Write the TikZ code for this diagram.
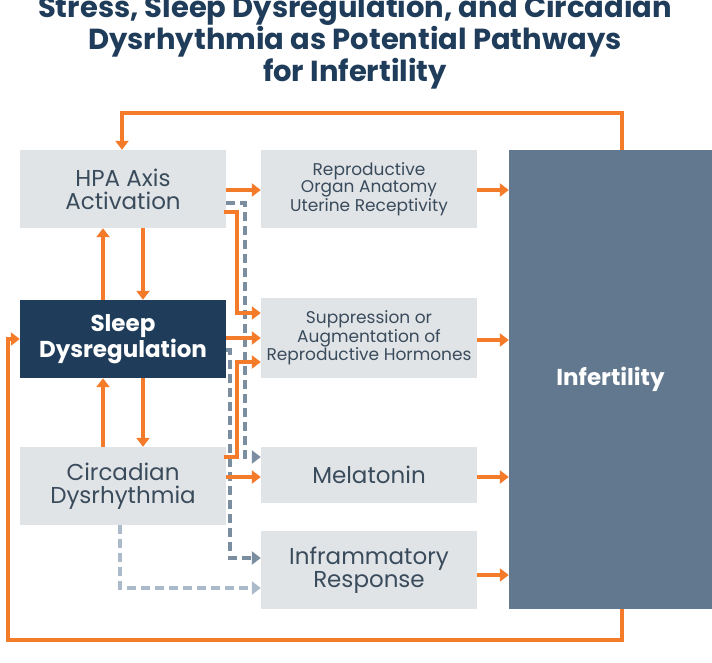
\documentclass[tikz,border=0pt]{standalone}
\usepackage{fontspec}
\setmainfont{Poppins}
\usetikzlibrary{positioning,arrows.meta}
\definecolor{navy}{HTML}{1F3D5A}
\definecolor{slate}{HTML}{62788E}
\definecolor{boxgray}{HTML}{E1E4E7}
\definecolor{txt}{HTML}{3A4B5C}
\definecolor{flow}{HTML}{F47B2A}
\definecolor{dash}{HTML}{7A8EA0}
\definecolor{ldash}{HTML}{AABACA}
\begin{document}
\begin{tikzpicture}[x=1pt,y=-1pt,
box/.style={fill=boxgray, text=txt, align=center, inner sep=0pt, font=\fontsize{23}{23}\selectfont},
small/.style={box, font=\fontsize{17}{17}\selectfont},
flowarrow/.style={draw=flow, line width=4.5pt, -{Triangle[length=9pt,width=13pt]}},
dasharrow/.style={draw=dash, line width=4.5pt, dash pattern=on 9pt off 5pt, -{Triangle[length=9pt,width=13pt]}}]
\useasboundingbox (0,0) rectangle (712,662);
\node[font=\fontsize{29}{26}\selectfont\bfseries, text=navy, align=center] (title) at (355,42)
  {Stress, Sleep Dysregulation, and Circadian\\Dysrhythmia as Potential Pathways\\for Infertility};
% left column
\node[box, minimum width=206, minimum height=78] (hpa) at (123,189) {HPA Axis\\Activation};
\node[box, fill=navy, text=white, font=\fontsize{23}{24}\selectfont\bfseries, minimum width=206, minimum height=78] (sleep) at (123,339) {Sleep\\Dysregulation};
\node[box, minimum width=206, minimum height=78] (circ) at (123,486) {Circadian\\Dysrhythmia};
% middle column
\node[small, minimum width=216, minimum height=78] (repro) at (369,189) {Reproductive\\Organ Anatomy\\Uterine Receptivity};
\node[small, minimum width=216, minimum height=80] (supp) at (369,338) {Suppression or\\Augmentation of\\Reproductive Hormones};
\node[box, minimum width=216, minimum height=56] (mel) at (369,475) {Melatonin};
\node[box, minimum width=216, minimum height=78] (infl) at (369,570) {Inframmatory\\Response};
% right
\node[fill=slate, text=white, font=\fontsize{23}{23}\selectfont\bfseries, minimum width=203, minimum height=459, inner sep=0pt] (inf) at (610.5,379.5) {Infertility};
% loops
\draw[flowarrow] (622,150) |- (122,113) -- (hpa.north-|122,0);
\draw[flowarrow] (622,609) |- (8,640) |- (sleep.west);
% vertical
\draw[flowarrow] (sleep.north-|103,0) -- (hpa.south-|103,0);
\draw[flowarrow] (hpa.south-|143,0) -- (sleep.north-|143,0);
\draw[flowarrow] (circ.north-|103,0) -- (sleep.south-|103,0);
\draw[flowarrow] (sleep.south-|143,0) -- (circ.north-|143,0);
% dashed
\draw[dasharrow] (226,203) -| (245,457) -- (mel.west|-0,457);
\draw[dasharrow] (226,350) -| (230,558) -- (infl.west|-0,558);
\draw[dasharrow, draw=ldash] (circ.south-|120,0) |- (infl.west|-0,588);
% orange to middle
\draw[flowarrow] (226,190) -- (repro.west|-0,190);
\draw[flowarrow] (224,212) -| (237,313) -- (supp.west|-0,313);
\draw[flowarrow] (sleep.east|-0,338) -- (supp.west|-0,338);
\draw[flowarrow] (224,457) -| (237,362) -- (supp.west|-0,362);
\draw[flowarrow] (226,477) -- (mel.west|-0,477);
% to infertility
\foreach \s/\y in {repro/190, supp/340, mel/477, infl/575}
  \draw[flowarrow] (\s.east|-0,\y) -- (inf.west|-0,\y);
\end{tikzpicture}
\end{document}
